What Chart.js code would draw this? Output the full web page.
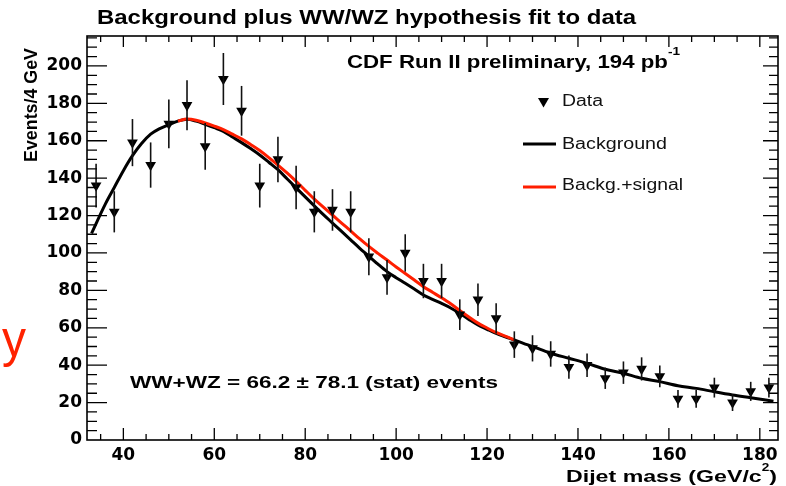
<!DOCTYPE html>
<html><head><meta charset="utf-8">
<script src="https://cdn.jsdelivr.net/npm/chart.js@4.4.0/dist/chart.umd.min.js"></script>
<style>html,body{margin:0;background:#fff}</style>
</head><body>
<canvas id="c" width="786" height="486"></canvas>
<script>
// data points (4 GeV bins)
const massBins = [34,38,42,46,50,54,58,62,66,70,74,78,82,86,90,94,98,102,106,110,114,118,122,126,130,134,138,142,146,150,154,158,162,166,170,174,178,182];
const dataEvents = [136,122,159,147,169,179,157,193,176,136,150,135,122,123,122,98,87,100,85,85,67,75,65,51,49,46,39,40,33,36,38,34,22,22,28,20,26,28];
const dataErrors = [11.7,11.0,12.6,12.1,13.0,13.4,12.5,13.9,13.3,11.7,12.2,11.6,11.0,11.1,11.0,9.9,9.3,10.0,9.2,9.2,8.2,8.7,8.1,7.1,7.0,6.8,6.2,6.3,5.7,6.0,6.2,5.8,4.7,4.7,5.3,4.5,5.1,5.3];

// background fit
const bgMass = [33,36,38,40,42,44,46,48,50,52,54,56,58,60,62,64,66,68,70,72,74,76,78,80,82,84,86,88,90,92,94,96,98,100,102,104,106,108,110,112,114,116,118,120,122,124,126,128,130,134,138,142,146,150,154,158,162,166,170,174,178,183];
const bgEvents = [110.5,126,135,144,152,158.5,163.5,166.5,168.6,170.5,171.5,170.5,168.8,167,165,162,159,155.8,152.4,148.5,144.5,139.7,134.8,130,125.2,120.5,116,111.5,107,102.5,98.3,94,90,86.8,83.8,80.7,77.5,75.2,73,70.6,67.7,64.5,61.5,59.2,57,55.2,53.5,51.7,50,46.4,43.7,41,37.8,35.7,33,31.2,29,27.6,25.8,24.1,22.6,20.7];

// background + signal fit (only where it differs)
const sigMass = [52,54,56,58,60,62,64,66,68,70,72,74,76,78,80,82,84,86,88,90,92,94,96,98,100,102,104,106,108,110,112,114,116,118,120,122,124,126];
const sigEvents = [170.5,171.6,171,169.5,167.8,166,163.5,161,158,154.8,151,147,142.8,138.3,133.5,128.8,124.5,120.3,116,111.8,107.5,103.5,99.8,96.2,92.5,89,85.5,82,79,76,72.8,69.2,65.8,62.5,59.9,57.5,55.5,53.6];

const xTicks = [40,60,80,100,120,140,160,180];
const yTicks = [0,20,40,60,80,100,120,140,160,180,200];

const pts = (xs, ys) => xs.map((x, i) => ({x, y: ys[i]}));

// draws a run of text pieces, squeezed/stretched to a target width
function drawRich(ctx, parts, x, base, width, color) {
  ctx.save();
  ctx.fillStyle = color || '#000';
  ctx.textBaseline = 'alphabetic';
  let total = 0;
  parts.forEach(p => { ctx.font = p.font; p.w = ctx.measureText(p.t).width; total += p.w; });
  const sx = width / total;
  ctx.translate(x, base);
  ctx.scale(sx, 1);
  let cx = 0;
  parts.forEach(p => { ctx.font = p.font; ctx.fillText(p.t, cx, p.dy || 0); cx += p.w; });
  ctx.restore();
}

const B = s => `bold ${s}px "Liberation Sans", Arial, sans-serif`;
const N = s => `${s}px "Liberation Sans", Arial, sans-serif`;

const decor = {
  id: 'decor',
  afterDatasetsDraw(chart) {
    const {ctx, scales: {x, y}} = chart;
    ctx.save();
    ctx.strokeStyle = '#111';
    ctx.lineWidth = 1.6;
    massBins.forEach((m, i) => {
      const px = x.getPixelForValue(m);
      ctx.beginPath();
      ctx.moveTo(px, y.getPixelForValue(dataEvents[i] - dataErrors[i]));
      ctx.lineTo(px, y.getPixelForValue(dataEvents[i] + dataErrors[i]));
      ctx.stroke();
    });
    ctx.restore();
  },
  afterDraw(chart) {
    const {ctx, chartArea: ca, scales: {x, y}} = chart;
    ctx.save();
    ctx.strokeStyle = '#000';
    ctx.lineWidth = 1.3;
    ctx.beginPath();
    for (let v = 35; v <= 184; v += 5) {
      const p = x.getPixelForValue(v), major = v % 20 === 0;
      ctx.moveTo(p, ca.bottom); ctx.lineTo(p, ca.bottom - (major ? 12 : 6));
      ctx.moveTo(p, ca.top); ctx.lineTo(p, ca.top + (major ? 11 : 6));
    }
    for (let v = 5; v <= 216; v += 5) {
      const p = y.getPixelForValue(v), major = v % 20 === 0;
      ctx.moveTo(ca.left, p); ctx.lineTo(ca.left + (major ? 20 : 10), p);
      ctx.moveTo(ca.right, p); ctx.lineTo(ca.right - (major ? 15 : 9), p);
    }
    ctx.stroke();
    ctx.lineWidth = 1.6;
    ctx.strokeRect(ca.left, ca.top, ca.right - ca.left, ca.bottom - ca.top);
    ctx.restore();

    // texts
    drawRich(ctx, [{t: 'Background plus WW/WZ hypothesis fit to data', font: B(20)}], 97, 24, 539);
    drawRich(ctx, [{t: 'CDF Run II preliminary, 194 pb', font: B(18)}, {t: '-1', font: B(11), dy: -13}], 347, 68, 333);
    drawRich(ctx, [{t: 'WW+WZ = 66.2 \u00b1 78.1 (stat) events', font: B(16)}], 130, 388, 368);
    drawRich(ctx, [{t: 'Dijet mass (GeV/c', font: B(17)}, {t: '2', font: B(10), dy: -11}, {t: ')', font: B(17)}], 566, 482, 211);
    ctx.save();
    ctx.translate(37, 162);
    ctx.rotate(-Math.PI / 2);
    drawRich(ctx, [{t: 'Events/4 GeV', font: B(19)}], 0, 0, 114);
    ctx.restore();

    // legend
    ctx.save();
    ctx.fillStyle = '#000';
    ctx.beginPath();
    ctx.moveTo(538, 98); ctx.lineTo(549, 98); ctx.lineTo(543.5, 107.5); ctx.closePath();
    ctx.fill();
    ctx.lineWidth = 3;
    ctx.strokeStyle = '#000';
    ctx.beginPath(); ctx.moveTo(523, 144); ctx.lineTo(556, 144); ctx.stroke();
    ctx.strokeStyle = '#ff1e00';
    ctx.beginPath(); ctx.moveTo(523, 187); ctx.lineTo(556, 187); ctx.stroke();
    ctx.restore();
    drawRich(ctx, [{t: 'Data', font: N(16)}], 562, 106, 41, '#111');
    drawRich(ctx, [{t: 'Background', font: N(16)}], 562, 149, 105, '#111');
    drawRich(ctx, [{t: 'Backg.+signal', font: N(16)}], 562, 190, 121, '#111');

    // red handwritten mark
    drawRich(ctx, [{t: 'y', font: N(52)}], 2, 356, 24, '#ff2200');
  }
};

new Chart(document.getElementById('c'), {
  type: 'scatter',
  data: {
    datasets: [
      {label: 'Data', data: pts(massBins, dataEvents), pointStyle: 'triangle', rotation: 180,
       pointRadius: 6.2, backgroundColor: '#000', borderColor: '#000', borderWidth: 0},
      {label: 'Backg.+signal', data: pts(sigMass, sigEvents), showLine: true, pointRadius: 0,
       borderColor: '#ff1e00', borderWidth: 3, cubicInterpolationMode: 'monotone'},
      {label: 'Background', data: pts(bgMass, bgEvents), showLine: true, pointRadius: 0,
       borderColor: '#000', borderWidth: 3, cubicInterpolationMode: 'monotone'}
    ]
  },
  options: {
    responsive: false,
    animation: false,
    layout: {padding: {left: 0, top: 36, right: 8, bottom: 0}},
    plugins: {legend: {display: false}, tooltip: {enabled: false}},
    scales: {
      x: {
        type: 'linear', min: 32, max: 184,
        grid: {display: false, drawTicks: false}, border: {display: false},
        afterBuildTicks: s => { s.ticks = xTicks.map(v => ({value: v})); },
        afterFit: s => { s.height = 46; },
        ticks: {padding: 5, color: '#000', font: {family: 'DejaVu Sans', weight: 'bold', size: 17}}
      },
      y: {
        type: 'linear', min: 0, max: 216,
        grid: {display: false, drawTicks: false}, border: {display: false},
        afterBuildTicks: s => { s.ticks = yTicks.map(v => ({value: v})); },
        afterFit: s => { s.width = 87; },
        ticks: {padding: 5, color: '#000', font: {family: 'DejaVu Sans', weight: 'bold', size: 17}}
      }
    }
  },
  plugins: [decor]
});
</script>
</body></html>
